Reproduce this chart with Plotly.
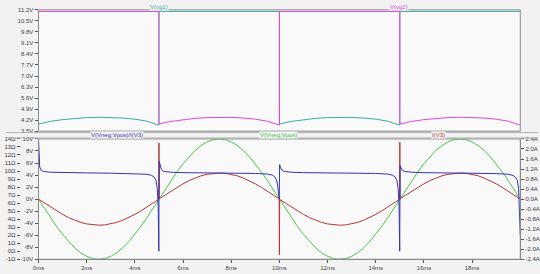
import plotly.graph_objects as go

W, H = 540, 274

# ---------------- data ----------------
# time grid for the sine-shaped traces (ms)
t_grid = [i * 0.25 for i in range(81)]

# V(Vneg,Vpos) [V]
green_v = [0, -1.56, -3.09, -4.54, -5.88, -7.07, -8.09, -8.91, -9.51, -9.88, -10,
           -9.88, -9.51, -8.91, -8.09, -7.07, -5.88, -4.54, -3.09, -1.56, 0,
           1.56, 3.09, 4.54, 5.88, 7.07, 8.09, 8.91, 9.51, 9.88, 10,
           9.88, 9.51, 8.91, 8.09, 7.07, 5.88, 4.54, 3.09, 1.56, 0,
           -1.56, -3.09, -4.54, -5.88, -7.07, -8.09, -8.91, -9.51, -9.88, -10,
           -9.88, -9.51, -8.91, -8.09, -7.07, -5.88, -4.54, -3.09, -1.56, 0,
           1.56, 3.09, 4.54, 5.88, 7.07, 8.09, 8.91, 9.51, 9.88, 10,
           9.88, 9.51, 8.91, 8.09, 7.07, 5.88, 4.54, 3.09, 1.56, 0]

# I(V3) [A]
red_v = [0, -0.16, -0.32, -0.47, -0.61, -0.74, -0.84, -0.93, -0.99, -1.03, -1.04,
         -1.03, -0.99, -0.93, -0.84, -0.74, -0.61, -0.47, -0.32, -0.16, 0,
         0.16, 0.32, 0.47, 0.61, 0.74, 0.84, 0.93, 0.99, 1.03, 1.04,
         1.03, 0.99, 0.93, 0.84, 0.74, 0.61, 0.47, 0.32, 0.16, 0,
         -0.16, -0.32, -0.47, -0.61, -0.74, -0.84, -0.93, -0.99, -1.03, -1.04,
         -1.03, -0.99, -0.93, -0.84, -0.74, -0.61, -0.47, -0.32, -0.16, 0,
         0.16, 0.32, 0.47, 0.61, 0.74, 0.84, 0.93, 0.99, 1.03, 1.04,
         1.03, 0.99, 0.93, 0.84, 0.74, 0.61, 0.47, 0.32, 0.16, 0]
red_spike_t = [4.99, 5.0, 5.01, 9.99, 10.0, 10.01, 14.99, 15.0, 15.01]
red_spike_v = [-0.01, 2.24, 0.01, 0.01, -2.22, -0.01, -0.01, 2.27, 0.01]

# V(Vneg,Vpos)/I(V3) [Ohm]
blue_t = [0, 0.02, 0.05, 0.1, 0.2, 0.5, 1, 2, 3, 4, 4.5, 4.7, 4.8, 4.88, 4.93, 4.97, 4.995,
          5.0, 5.01, 5.05, 5.1, 5.2, 5.5, 6, 7, 8, 9, 9.5, 9.7, 9.8, 9.88, 9.93, 9.97, 9.995,
          10.0, 10.01, 10.05, 10.1, 10.2, 10.5, 11, 12, 13, 14, 14.5, 14.7, 14.8, 14.88, 14.93,
          14.97, 14.995, 15.0, 15.01, 15.05, 15.1, 15.2, 15.5, 16, 17, 18, 19, 19.5, 19.7,
          19.8, 19.88, 19.93, 19.97, 20]
blue_v = [14.0, 11.3, 10.5, 10.15, 9.95, 9.85, 9.8, 9.77, 9.73, 9.68, 9.6, 9.45, 9.25, 8.8, 7.8, 5.5, 0.0,
          5.0, 11.2, 10.6, 10.2, 9.95, 9.85, 9.8, 9.78, 9.75, 9.7, 9.62, 9.5, 9.3, 8.9, 8.2, 7.2, 6.5,
          8.5, 10.8, 10.4, 10.1, 9.95, 9.85, 9.8, 9.78, 9.75, 9.7, 9.62, 9.48, 9.28, 8.8, 7.8,
          5.5, 0.0, 5.0, 10.7, 10.4, 10.1, 9.95, 9.85, 9.8, 9.78, 9.74, 9.68, 9.6, 9.45,
          9.25, 8.8, 7.8, 5.5, 2.0]

# gate voltages [V]
vg_high = 11.1
arc_off = [0, 0.5, 1, 1.5, 2, 2.5, 3, 3.5, 4, 4.5, 5]
arc_v = [3.95, 4.12, 4.23, 4.31, 4.36, 4.38, 4.37, 4.33, 4.26, 4.13, 3.88]

# tick labels
x_ticks = [0, 2, 4, 6, 8, 10, 12, 14, 16, 18]
x_text = [f"{v}ms" for v in x_ticks]
vg_ticks = [3.5, 4.2, 4.9, 5.6, 6.3, 7.0, 7.7, 8.4, 9.1, 9.8, 10.5, 11.2]
v_ticks = list(range(-10, 11, 2))
a_ticks = [-2.4, -2.0, -1.6, -1.2, -0.8, -0.4, 0.0, 0.4, 0.8, 1.2, 1.6, 2.0, 2.4]
o_ticks = list(range(-1, 15))

# ---------------- build traces ----------------
red_map = dict(zip(t_grid, red_v))
for t, v in zip(red_spike_t, red_spike_v):
    red_map[t] = v
red_t_all = sorted(red_map)
red_v_all = [red_map[t] for t in red_t_all]

vg1_t, vg1_v, vg2_t, vg2_v = [], [], [], []
for k, start in enumerate([0, 5, 10, 15]):
    seg_t = [start + o for o in arc_off]
    if k % 2 == 0:   # vg1 low, vg2 high
        vg1_t += seg_t; vg1_v += arc_v
        vg2_t += [start, start + 5]; vg2_v += [vg_high, vg_high]
    else:
        vg2_t += seg_t; vg2_v += arc_v
        vg1_t += [start, start + 5]; vg1_v += [vg_high, vg_high]
vg2_t = [0] + vg2_t
vg2_v = [arc_v[0]] + vg2_v

C_TEAL = "#3aada0"
C_MAG = "#dc48dc"
C_BLUE = "#3434b4"
C_GREEN = "#48c848"
C_RED = "#b43636"

fig = go.Figure()
fig.add_trace(go.Scatter(x=vg1_t, y=vg1_v, xaxis="x2", yaxis="y4", mode="lines",
                         line=dict(color=C_TEAL, width=1)))
fig.add_trace(go.Scatter(x=vg2_t, y=vg2_v, xaxis="x2", yaxis="y4", mode="lines",
                         line=dict(color=C_MAG, width=1)))
fig.add_trace(go.Scatter(x=t_grid, y=green_v, xaxis="x", yaxis="y", mode="lines",
                         line=dict(color=C_GREEN, width=1)))
fig.add_trace(go.Scatter(x=red_t_all, y=red_v_all, xaxis="x", yaxis="y2", mode="lines",
                         line=dict(color=C_RED, width=1)))
fig.add_trace(go.Scatter(x=blue_t, y=blue_v, xaxis="x", yaxis="y3", mode="lines",
                         line=dict(color=C_BLUE, width=1)))

# ---------------- layout ----------------
x0, x1 = 33 / W, 522 / W
def py(px):
    return 1 - px / H

top_dom = [py(131), py(7)]
bot_dom = [py(262), py(139)]
FONT = dict(family="Liberation Sans", size=6, color="#404040")
AX = dict(showgrid=False, zeroline=False, ticks="outside", ticklen=3, tickwidth=1,
          tickcolor="#555", tickfont=FONT, fixedrange=True)

fig.update_layout(
    width=W, height=H, autosize=False, showlegend=False,
    margin=dict(l=0, r=0, t=0, b=0, pad=0),
    paper_bgcolor="#f2f2f2", plot_bgcolor="#f9f9f9",
    xaxis=dict(domain=[x0, x1], range=[0, 20], anchor="y", tickvals=x_ticks, ticktext=x_text,
               showline=True, linecolor="#8a8a8a", **AX),
    xaxis2=dict(domain=[x0, x1], range=[0, 20], anchor="y4", matches="x",
                showticklabels=False, showline=False, showgrid=False, zeroline=False, ticks=""),
    yaxis=dict(domain=bot_dom, range=[-10, 10], anchor="x", tickvals=v_ticks,
               ticktext=[f"{v}V" for v in v_ticks], showline=True, linecolor="#8a8a8a", **AX),
    yaxis2=dict(range=[-2.4, 2.4], overlaying="y", side="right", anchor="x", tickvals=a_ticks,
                ticktext=[f"{v:.1f}A" for v in a_ticks], showline=True, linecolor="#8a8a8a", **AX),
    yaxis3=dict(range=[-1, 14], overlaying="y", side="left", anchor="free", position=14 / W,
                tickvals=o_ticks, ticktext=[f"{v}Ω" for v in o_ticks], showline=False, **AX),
    yaxis4=dict(domain=top_dom, range=[3.5, 11.2], anchor="x2", tickvals=vg_ticks,
                ticktext=[f"{v:.1f}V" for v in vg_ticks], showline=True, linecolor="#8a8a8a", **AX),
)

shapes = []
# pane frames
for (yt, yb) in [(7, 131), (139, 262)]:
    shapes.append(dict(type="rect", xref="paper", yref="paper", x0=x0, x1=x1, y0=py(yb), y1=py(yt),
                       line=dict(color="#8a8a8a", width=1), fillcolor="rgba(0,0,0,0)", layer="above"))
# separator lines between panes
for yy in [132.5, 138]:
    shapes.append(dict(type="line", xref="paper", yref="paper", x0=0, x1=1, y0=py(yy), y1=py(yy),
                       line=dict(color="#b0b0b0", width=1)))
fig.update_layout(shapes=shapes)

labels = [("V(vg1)", 155, 4, C_TEAL), ("V(vg2)", 399, 4, C_MAG),
          ("V(Vneg,Vpos)/I(V3)", 113, 135, C_BLUE), ("V(Vneg,Vpos)", 277, 135, C_GREEN),
          ("I(V3)", 439, 135, C_RED)]
for txt, xp, yp, col in labels:
    fig.add_annotation(text=txt, xref="paper", yref="paper", x=xp / W, y=py(yp),
                       showarrow=False, xanchor="center", yanchor="middle",
                       font=dict(family="Liberation Sans", size=6, color=col),
                       bgcolor="#f2f2f2", borderpad=0)

fig.write_html("out.html")
